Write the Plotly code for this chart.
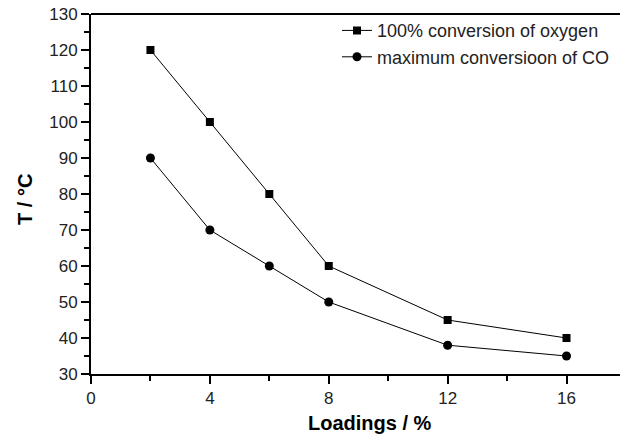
import plotly.graph_objects as go

# Metal loading (%) and the temperatures reached for each criterion
loadings = [2, 4, 6, 8, 12, 16]
t_full_o2 = [120, 100, 80, 60, 45, 40]
t_max_co = [90, 70, 60, 50, 38, 35]

series_names = ["100% conversion of oxygen", "maximum conversioon of CO"]

FONT = "Liberation Sans, Arial, sans-serif"

fig = go.Figure()
fig.add_trace(go.Scatter(
    x=loadings, y=t_full_o2, name=series_names[0], mode="lines+markers",
    line=dict(color="black", width=1),
    marker=dict(symbol="square", size=8, color="black"),
))
fig.add_trace(go.Scatter(
    x=loadings, y=t_max_co, name=series_names[1], mode="lines+markers",
    line=dict(color="black", width=1),
    marker=dict(symbol="circle", size=9, color="black"),
))

axis_common = dict(
    showline=True, linecolor="black", linewidth=2,
    ticks="outside", tickwidth=2, ticklen=8, tickcolor="black",
    showgrid=False, zeroline=False,
    tickfont=dict(family=FONT, size=17, color="#222"),
)

fig.update_xaxes(
    range=[0, 17.8], tickmode="array", tickvals=[0, 4, 8, 12, 16],
    minor=dict(ticks="outside", ticklen=5, tickwidth=2, tickcolor="black",
               dtick=2, tick0=0),
    mirror=False, **axis_common,
)
fig.update_yaxes(
    range=[30, 130], dtick=10,
    minor=dict(ticks="outside", ticklen=5, tickwidth=2, tickcolor="black",
               dtick=5, tick0=30),
    **axis_common,
)

# top frame line
fig.add_shape(type="line", xref="paper", yref="paper", x0=0, x1=1, y0=1, y1=1,
              line=dict(color="black", width=2))

fig.add_annotation(text="<b>Loadings / %</b>", xref="paper", yref="paper",
                   x=(370 - 91) / 529, y=-49 / 360, xanchor="center", yanchor="middle",
                   showarrow=False, font=dict(family=FONT, size=20, color="black"))
fig.add_annotation(text="<b>T / °C</b>", xref="paper", yref="paper",
                   x=-66 / 529, y=(374 - 200) / 360, xanchor="center", yanchor="middle",
                   textangle=-90, showarrow=False,
                   font=dict(family=FONT, size=20, color="black"))

fig.update_layout(
    width=620, height=435,
    margin=dict(l=91, r=0, t=14, b=61),
    plot_bgcolor="white", paper_bgcolor="white",
    showlegend=True,
    legend=dict(x=(337 - 91) / 529, y=1.005, xanchor="left", yanchor="top",
                bgcolor="rgba(0,0,0,0)", font=dict(family=FONT, size=18, color="#222"),
                itemwidth=30, tracegroupgap=0),
)

fig.write_html("out.html")
